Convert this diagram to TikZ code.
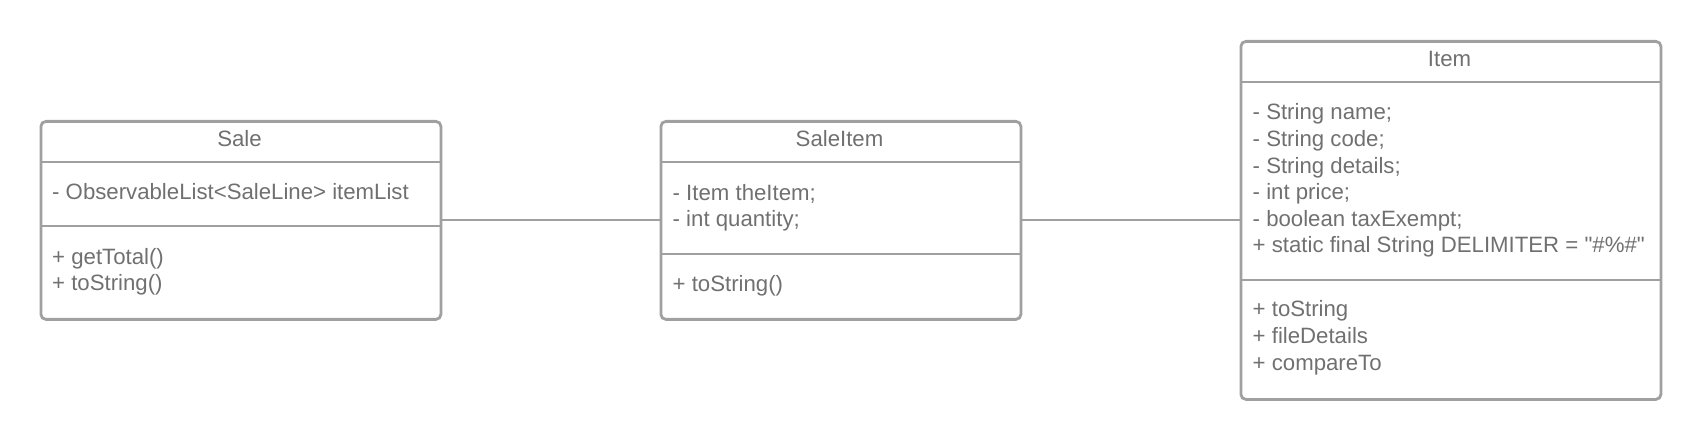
\documentclass[tikz,border=0pt]{standalone}
\usepackage{fontspec}
\newfontfamily\lsans{Liberation Sans}
\definecolor{bordergray}{HTML}{A0A0A0}
\definecolor{textgray}{HTML}{707070}
\begin{document}
\begin{tikzpicture}[x=1pt,y=-1pt,
  classbox/.style={draw=bordergray, line width=2.8pt, rounded corners=5pt, inner sep=0pt, anchor=north west},
  divider/.style={draw=bordergray, line width=2.8pt},
  link/.style={draw=bordergray, line width=2pt},
  txt/.style={text=textgray, font=\lsans\fontsize{22.2}{26}\selectfont, inner sep=0pt, anchor=base west},
  ttl/.style={text=textgray, font=\lsans\fontsize{22.2}{26}\selectfont, inner sep=0pt, anchor=base}]
\useasboundingbox (0,0) rectangle (1700,438);
% Sale
\node[classbox, minimum width=400pt, minimum height=198pt] (sale) at (39.5,120) {};
\draw[divider] (39.5,162) -- (439.5,162);
\draw[divider] (39.5,226) -- (439.5,226);
\node[ttl] (saletitle) at (239.5,146.5) {Sale};
\node[txt] (salea1) at (52,200) {- ObservableList<SaleLine> itemList};
\node[txt] (salem1) at (52,265) {+ getTotal()};
\node[txt] (salem2) at (52,291) {+ toString()};
% SaleItem
\node[classbox, minimum width=360pt, minimum height=198pt] (saleitem) at (659.5,120) {};
\draw[divider] (659.5,162) -- (1019.5,162);
\draw[divider] (659.5,254) -- (1019.5,254);
\node[ttl] (saleitemtitle) at (839.5,146.5) {SaleItem};
\node[txt] (saleitema1) at (672.5,200.5) {- Item theItem;};
\node[txt] (saleitema2) at (672.5,226.5) {- int quantity;};
\node[txt] (saleitemm1) at (672.5,291.5) {+ toString()};
% Item
\node[classbox, minimum width=420pt, minimum height=358pt] (item) at (1239.5,40) {};
\draw[divider] (1239.5,82) -- (1659.5,82);
\draw[divider] (1239.5,280) -- (1659.5,280);
\node[ttl] (itemtitle) at (1449.5,66.5) {Item};
\node[txt] (itema1) at (1252.5,120) {- String name;};
\node[txt] (itema2) at (1252.5,146.6) {- String code;};
\node[txt] (itema3) at (1252.5,173.2) {- String details;};
\node[txt] (itema4) at (1252.5,199.8) {- int price;};
\node[txt] (itema5) at (1252.5,226.4) {- boolean taxExempt;};
\node[txt] (itema6) at (1252.5,253) {+ static final String DELIMITER = "\#\%\#"};
\node[txt] (itemm1) at (1252.5,316.7) {+ toString};
\node[txt] (itemm2) at (1252.5,343.3) {+ fileDetails};
\node[txt] (itemm3) at (1252.5,370) {+ compareTo};
% connectors
\draw[link] (sale.east) -- (saleitem.west);
\draw[link] (saleitem.east) -- (item.west);
\end{tikzpicture}
\end{document}
